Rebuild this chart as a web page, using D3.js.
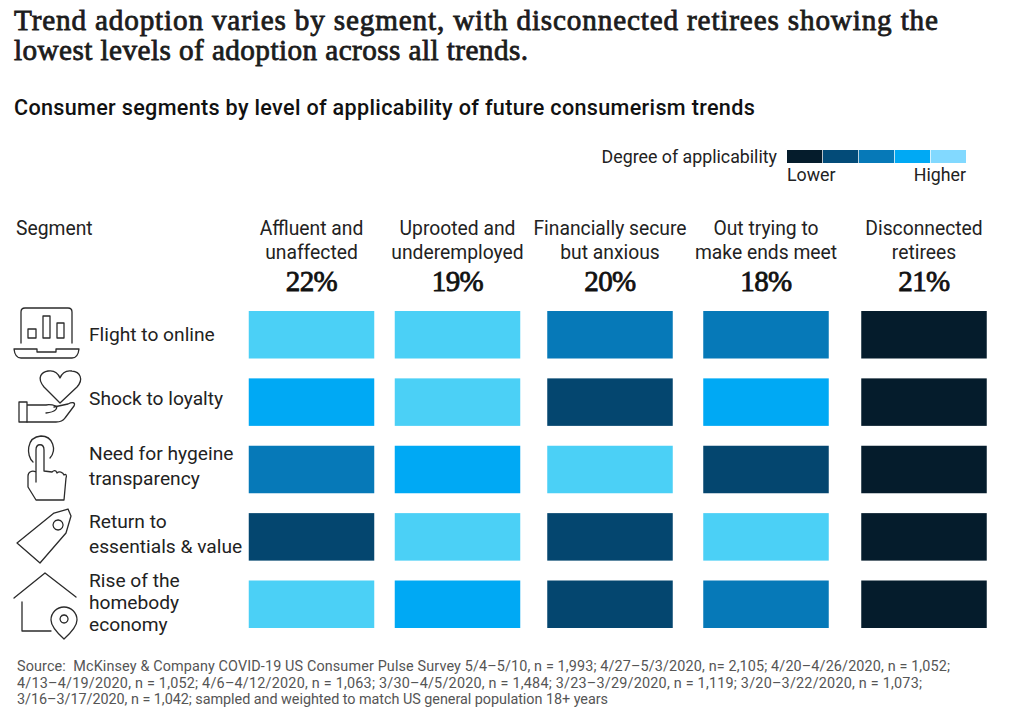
<!DOCTYPE html>
<html>
<head>
<meta charset="utf-8">
<script src="https://cdn.jsdelivr.net/npm/d3@7"></script>
<style>
  html, body { margin: 0; padding: 0; background: #fff; }
  svg { display: block; }
  text { font-family: Roboto, sans-serif; fill: #222; }
  .serif { font-family: "Liberation Serif", serif; }
  .icon { fill: none; stroke: #2b2b2b; stroke-width: 1.3; stroke-linejoin: round; stroke-linecap: round; }
</style>
</head>
<body>
<svg id="chart" width="1012" height="720"></svg>
<script>
var segments = ["Affluent and|unaffected", "Uprooted and|underemployed", "Financially secure|but anxious", "Out trying to|make ends meet", "Disconnected|retirees"];
var shares = ["22%", "19%", "20%", "18%", "21%"];
var trends = ["Flight to online", "Shock to loyalty", "Need for hygeine|transparency", "Return to|essentials & value", "Rise of the|homebody|economy"];

// 1 = lower applicability, 5 = higher, one row per trend
var flightToOnline = [5, 5, 3, 3, 1];
var shockToLoyalty = [4, 5, 2, 4, 1];
var hygiene = [3, 4, 5, 2, 1];
var essentials = [2, 5, 2, 5, 1];
var homebody = [5, 4, 2, 3, 1];
var levels = [flightToOnline, shockToLoyalty, hygiene, essentials, homebody];

var legendLevels = [1, 2, 3, 4, 5];
var cellColors = ["#051c2c", "#04466f", "#0679b8", "#00a9f4", "#4bd0f6"];
var legendColors = ["#051c2c", "#034b78", "#0679b8", "#00a9f4", "#82d9ff"];

var svg = d3.select("#chart");

// the columns in the source are not evenly spaced
var x = d3.scaleOrdinal().domain(d3.range(5)).range([311.5, 457.5, 610, 766, 924]);
var y = d3.scaleBand().domain(d3.range(5)).range([311, 628]).paddingInner(0.295).paddingOuter(0);
var cellWidth = 125.5;
var color = d3.scaleOrdinal().domain(legendLevels).range(cellColors);
var legendColor = d3.scaleOrdinal().domain(legendLevels).range(legendColors);
var legendX = d3.scaleBand().domain(legendLevels).range([787, 966]).paddingInner(0.02);

function lines(g, label, px, py, lineHeight, anchor, size) {
    label.split("|").forEach(function(t, i) {
        g.append("text").attr("x", px).attr("y", py + i * lineHeight)
            .attr("text-anchor", anchor).attr("font-size", size).text(t);
    });
}

// titles
var title = ["Trend adoption varies by segment, with disconnected retirees showing the", "lowest levels of adoption across all trends."];
var titleWidths = [924, 514];
svg.selectAll(".title").data(title).enter().append("text")
    .attr("class", "title serif")
    .attr("x", 14).attr("y", function(d, i) { return 30 + i * 29.5; })
    .attr("font-size", 29.2)
    .attr("textLength", function(d, i) { return titleWidths[i]; })
    .attr("lengthAdjust", "spacing")
    .style("fill", "#1c1c1c").style("stroke", "#1c1c1c").style("stroke-width", 0.8)
    .text(function(d) { return d; });

svg.append("text").attr("x", 14).attr("y", 115)
    .attr("font-size", 21.6).attr("font-weight", 500).attr("letter-spacing", 0.32).style("fill", "#111")
    .text("Consumer segments by level of applicability of future consumerism trends");

// legend
svg.append("text").attr("x", 777).attr("y", 163).attr("text-anchor", "end")
    .attr("font-size", 17.8).text("Degree of applicability");
svg.selectAll(".legend").data(legendLevels).enter().append("rect")
    .attr("class", "legend")
    .attr("x", function(d) { return legendX(d); })
    .attr("y", 150).attr("width", legendX.bandwidth()).attr("height", 13)
    .attr("fill", function(d) { return legendColor(d); });
svg.append("text").attr("x", 787).attr("y", 181).attr("font-size", 17.8).text("Lower");
svg.append("text").attr("x", 966).attr("y", 181).attr("text-anchor", "end").attr("font-size", 17.8).text("Higher");

// column headers
svg.append("text").attr("x", 16).attr("y", 235).attr("font-size", 19.3).text("Segment");
segments.forEach(function(s, i) {
    lines(svg, s, x(i), 235, 24, "middle", 19.3);
    svg.append("text").attr("class", "serif").attr("x", x(i)).attr("y", 291)
        .attr("text-anchor", "middle").attr("font-size", 29).attr("letter-spacing", -0.6)
        .style("fill", "#111").style("stroke", "#111").style("stroke-width", 0.8).text(shares[i]);
});

// row labels
var labelY = [341, 405, 460, 528, 587];
trends.forEach(function(t, i) {
    var lh = i === 4 ? 22 : 24.5;
    lines(svg, t, 89, labelY[i], lh, "start", 19.2);
});

// heatmap
var rows = svg.selectAll(".row").data(levels).enter().append("g").attr("class", "row");
rows.selectAll("rect").data(function(d, i) { return d.map(function(v, j) { return { row: i, col: j, v: v }; }); })
    .enter().append("rect")
    .attr("x", function(d) { return x(d.col) - cellWidth / 2; })
    .attr("y", function(d) { return y(d.row); })
    .attr("width", cellWidth)
    .attr("height", y.bandwidth())
    .attr("fill", function(d) { return color(d.v); });

// icons
var icons = svg.append("g").attr("class", "icon");
[
    // laptop
    "M21 343V312Q21 308 25 308H68Q72 308 72 312V343",
    "M28 329h8v9h-8z M43 316h7v22h-7z M57 323h7v15h-7z",
    "M14 349H37V352H56V349H79Q78 358 72 358H21Q15 358 14 349Z",
    // heart in hand
    "M60 403L44 387C36 377 42 372 48 371C54 370 58 373 60 378C62 373 66 370 72 371C80 372 84 379 77 387Z",
    "M19 402H27V422H19Z M27 405H46C50 404 53 405 56 406C58 408 56 412 46 413",
    "M54 407L68 404C72 402 76 402 74 406L65 418C63 421 60 422 56 422H27",
    // finger on button
    "M33 462C26 456 26 437 41 436C53 436 57 450 50 458",
    "M36 482V450C36 443 44 443 44 450V471L52 472C54 470 56 470 57 473C59 471 63 472 64 475C66 473 67 476 66 478L64 500H36L28 487V476C28 472 32 470 36 472",
    // price tag
    "M17 543L54 513L68 509L71 516L66 533L40 563Z",
    "M58 520a5 5 0 1 0 0.1 0",
    // house with location pin
    "M14 598L45 573L76 597",
    "M22 602V631H51",
    "M64 639C54 630 51 624 51 620A13 13 0 0 1 77 620C77 624 74 630 64 639Z",
    "M64 615a4 4 0 1 0 0.1 0"
].forEach(function(d) { icons.append("path").attr("d", d); });

// source note
var note = [
    "Source:  McKinsey & Company COVID-19 US Consumer Pulse Survey 5/4–5/10, n = 1,993; 4/27–5/3/2020, n= 2,105; 4/20–4/26/2020, n = 1,052;",
    "4/13–4/19/2020, n = 1,052; 4/6–4/12/2020, n = 1,063; 3/30–4/5/2020, n = 1,484; 3/23–3/29/2020, n = 1,119; 3/20–3/22/2020, n = 1,073;",
    "3/16–3/17/2020, n = 1,042; sampled and weighted to match US general population 18+ years"
];
var noteWidths = [933, 905, 591];
svg.selectAll(".note").data(note).enter().append("text")
    .attr("class", "note")
    .attr("x", 17).attr("y", function(d, i) { return 671 + i * 16.5; })
    .attr("font-size", 14.4).style("fill", "#555").style("white-space", "pre")
    .attr("textLength", function(d, i) { return noteWidths[i]; })
    .attr("lengthAdjust", "spacing")
    .text(function(d) { return d; });
</script>
</body>
</html>
